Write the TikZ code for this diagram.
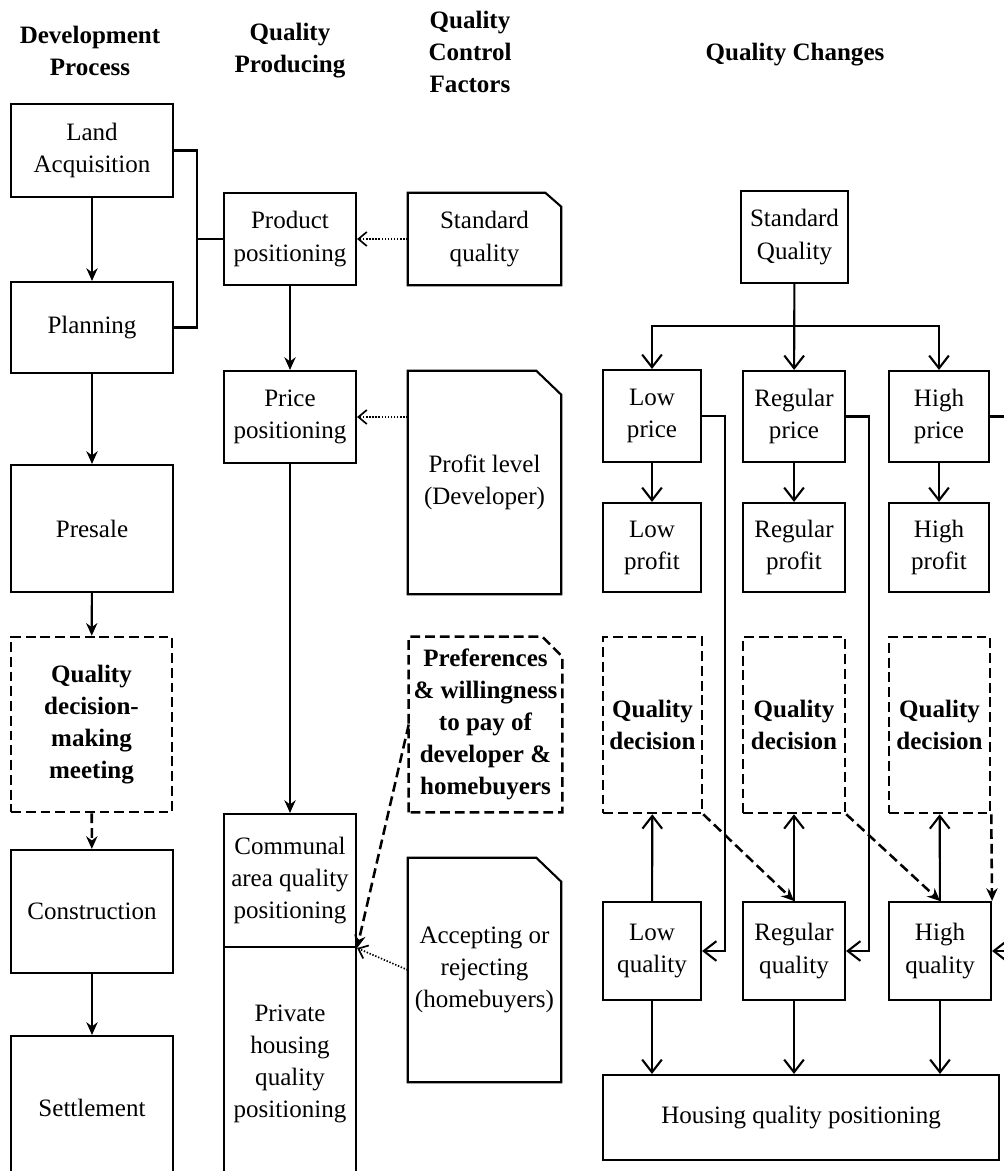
\documentclass[tikz,border=0pt]{standalone}
\usepackage{fontspec}
\setmainfont{Liberation Serif}
\usetikzlibrary{arrows.meta}
\newcommand\dsize{\fontsize{17.8}{22.8}\selectfont}

\begin{document}
\begin{tikzpicture}[x=0.025cm,y=-0.025cm,font=\dsize,
    wh/.style 2 args={minimum width=#1*0.025cm,minimum height=#2*0.025cm},
    box/.style={draw,line width=1.5pt,inner sep=0pt,align=center},
    dbox/.style={box,dash pattern=on 7pt off 3.5pt,line width=1.8pt,font=\dsize\bfseries},
    doc/.style={inner sep=0pt,align=center},
    head/.style={align=center,font=\dsize\bfseries},
    arr/.style={line width=1.5pt,-{Stealth[length=9pt,width=8pt]}},
    darr/.style={line width=1.8pt,dash pattern=on 7pt off 3.5pt,-{Stealth[length=9pt,width=8pt]}},
    barb/.style={line width=1.5pt,-{Straight Barb[length=9pt,width=14pt]}},
    dotarr/.style={line width=1.2pt,dash pattern=on 1pt off 1.2pt,-{Straight Barb[length=6pt,width=10pt]}}]
  \useasboundingbox (0,0) rectangle (1004,1171);

  \node[head] (hdev) at (90,51) {Development\\Process};
  \node[head] (hprod) at (290,51) {Quality\\Producing};
  \node[head] (hctrl) at (470,52) {Quality\\Control\\Factors};
  \node[head] (hchg) at (795,55) {Quality Changes};

  \node[box,wh={162}{93}] (land) at (92,150.5) {Land\\Acquisition};
  \node[box,wh={162}{91}] (plan) at (92,327.5) {Planning};
  \node[box,wh={162}{127}] (pres) at (92,528.5) {Presale};
  \node[dbox,wh={161}{175}] (qdmm) at (91.5,724.5) {Quality\\decision-\\making\\meeting};
  \node[box,wh={162}{123}] (cons) at (92,911.5) {Construction};
  \node[box,wh={162}{144}] (sett) at (92,1108) {Settlement};

  \draw[arr] (land) -- (plan);
  \draw[arr] (plan) -- (pres);
  \draw[arr] (pres) -- (qdmm);
  \draw[darr] (qdmm) -- (cons);
  \draw[arr] (cons) -- (sett);

  \node[box,wh={132}{92}] (prod) at (290,239) {Product\\positioning};
  \node[box,wh={132}{92}] (price) at (290,417) {Price\\positioning};
  \node[box,wh={132}{133}] (comm) at (290,880.5) {Communal\\area quality\\positioning};
  \node[box,wh={132}{233}] (priv) at (290,1063.5) {Private\\housing\\quality\\positioning};

  \coordinate (brk) at (197,239);
  \draw[line width=1.5pt] (land.east) -| (brk) |- (plan.east);
  \draw[line width=1.5pt] (brk) -- (prod.west);
  \draw[arr] (prod) -- (price);
  \draw[arr] (price) -- (comm);

  \node[doc,wh={153}{92}] (stdq) at (484.5,239) {Standard\\quality};
  \node[doc,wh={153}{223}] (prof) at (484.5,482.5) {Profit level\\(Developer)};
  \node[doc,wh={153}{175},font=\dsize\bfseries] (pref) at (485.5,724.5)
    {Preferences\\\& willingness\\to pay of\\developer \&\\homebuyers};
  \node[doc,wh={153}{224}] (acc) at (484.5,970) {Accepting or\\rejecting\\(homebuyers)};

  \draw[line width=1.5pt] (stdq.south west) -- (stdq.north west) -- ([shift={(-16,0)}]stdq.north east)
    -- ([shift={(0,14)}]stdq.north east) -- (stdq.south east) -- cycle;
  \draw[line width=1.5pt] (prof.south west) -- (prof.north west) -- ([shift={(-25,0)}]prof.north east)
    -- ([shift={(0,24)}]prof.north east) -- (prof.south east) -- cycle;
  \draw[line width=1.8pt,dash pattern=on 7pt off 3.5pt] (pref.south west) -- (pref.north west)
    -- ([shift={(-20,0)}]pref.north east) -- ([shift={(0,20)}]pref.north east) -- (pref.south east) -- cycle;
  \draw[line width=1.5pt] (acc.south west) -- (acc.north west) -- ([shift={(-25,0)}]acc.north east)
    -- ([shift={(0,24)}]acc.north east) -- (acc.south east) -- cycle;

  \draw[dotarr] (stdq.west) -- (prod.east);
  \draw[dotarr] (prof.west |- price.east) -- (price.east);
  \draw[darr] (pref.west) -- (comm.south east);
  \draw[dotarr] (acc.west) -- (comm.south east);

  \node[box,wh={107}{92}] (sq) at (794.5,237) {Standard\\Quality};
  \node[box,wh={98}{92}] (lowp) at (652,416) {Low\\price};
  \node[box,wh={102}{91}] (regp) at (794,416.5) {Regular\\price};
  \node[box,wh={100}{91}] (highp) at (939,416.5) {High\\price};
  \node[box,wh={98}{89}] (lowf) at (652,547.5) {Low\\profit};
  \node[box,wh={102}{89}] (regf) at (794,547.5) {Regular\\profit};
  \node[box,wh={100}{89}] (highf) at (939,547.5) {High\\profit};
  \node[dbox,wh={99}{176}] (lowd) at (652.5,725) {Quality\\decision};
  \node[dbox,wh={102}{176}] (regd) at (794,725) {Quality\\decision};
  \node[dbox,wh={101}{176}] (highd) at (939.5,725) {Quality\\decision};
  \node[box,wh={98}{98}] (lowq) at (652,951) {Low\\quality};
  \node[box,wh={102}{98}] (regq) at (794,951) {Regular\\quality};
  \node[box,wh={102}{98}] (highq) at (940,951) {High\\quality};
  \node[box,wh={396}{85}] (hqp) at (801,1117.5) {Housing quality positioning};

  \coordinate (brch) at (794,326);
  \draw[barb] (sq) -- (regp);
  \draw[barb] (brch) -| (lowp.north);
  \draw[barb] (brch) -| (highp.north);

  \draw[barb] (lowp) -- (lowf);
  \draw[barb] (regp) -- (regf);
  \draw[barb] (highp) -- (highf);

  \draw[barb] (lowp.east) -- ++(23,0) |- (lowq.east);
  \draw[barb] (regp.east) -- ++(23,0) |- (regq.east);
  \draw[barb] (highp.east) -- ++(23,0) |- (highq.east);

  \draw[barb] (lowq) -- (lowd);
  \draw[barb] (regq) -- (regd);
  \draw[barb] (highq) -- (highd);
  \draw[darr] (lowd.south east) -- (regq.north);
  \draw[darr] (regd.south east) -- (highq.north);
  \draw[darr] (highd.south east) -- (highq.north east);

  \draw[barb] (lowq) -- (lowq |- hqp.north);
  \draw[barb] (regq) -- (regq |- hqp.north);
  \draw[barb] (highq) -- (highq |- hqp.north);
\end{tikzpicture}
\end{document}
